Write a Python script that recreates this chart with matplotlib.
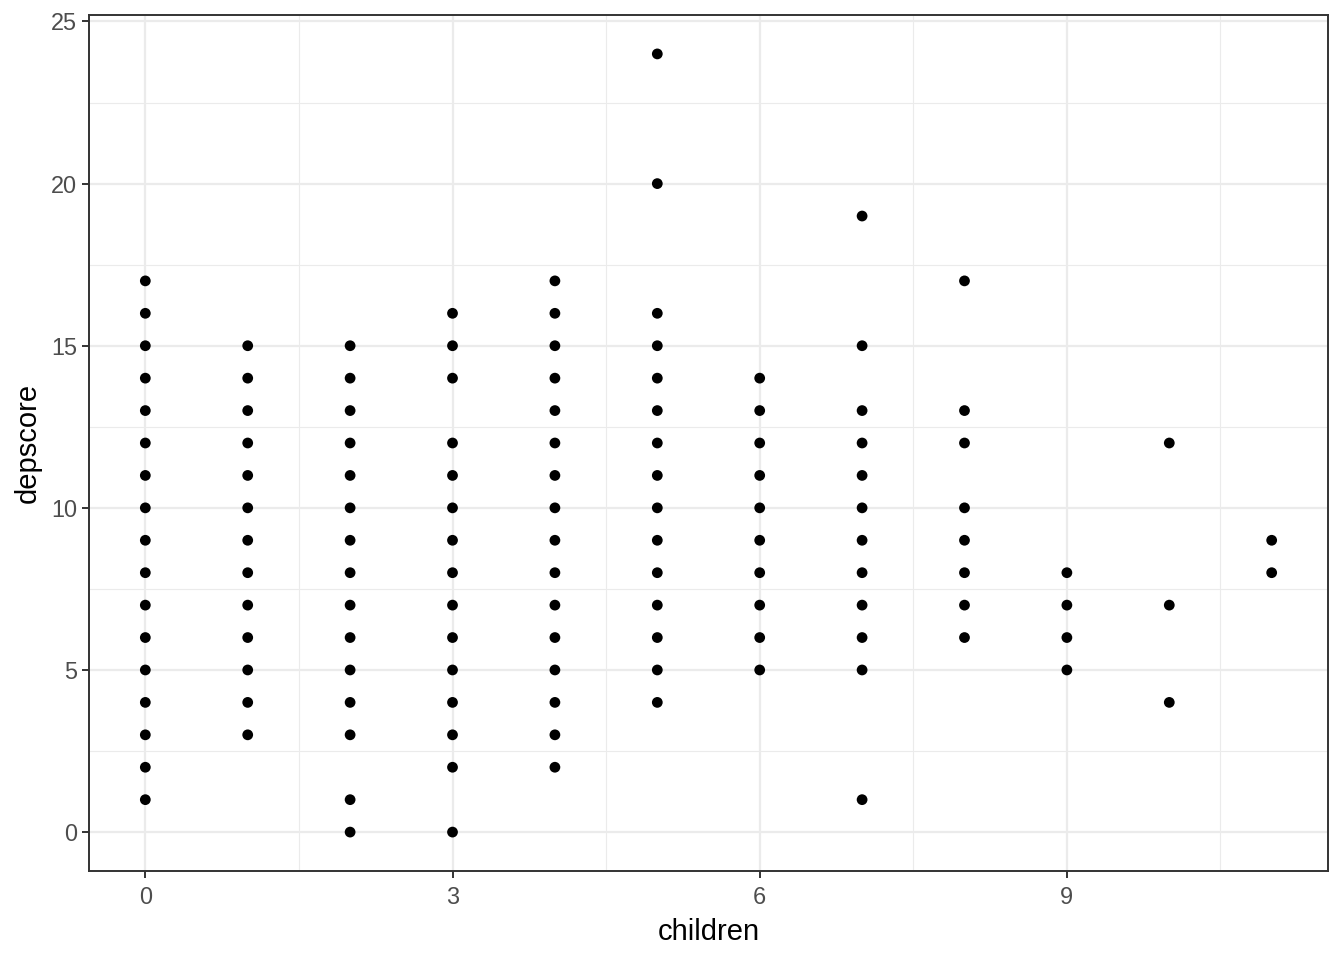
import matplotlib
matplotlib.use("Agg")
import matplotlib.pyplot as plt

plt.rcParams['font.family'] = ['Liberation Sans', 'DejaVu Sans']

children_vals = [0, 1, 2, 3, 4, 5, 6, 7, 8, 9, 10, 11]
depscores = {
    0: [1, 2, 3, 4, 5, 6, 7, 8, 9, 10, 11, 12, 13, 14, 15, 16, 17],
    1: [3, 4, 5, 6, 7, 8, 9, 10, 11, 12, 13, 14, 15],
    2: [0, 1, 3, 4, 5, 6, 7, 8, 9, 10, 11, 12, 13, 14, 15],
    3: [0, 2, 3, 4, 5, 6, 7, 8, 9, 10, 11, 12, 14, 15, 16],
    4: [2, 3, 4, 5, 6, 7, 8, 9, 10, 11, 12, 13, 14, 15, 16, 17],
    5: [4, 5, 6, 7, 8, 9, 10, 11, 12, 13, 14, 15, 16, 20, 24],
    6: [5, 6, 7, 8, 9, 10, 11, 12, 13, 14],
    7: [1, 5, 6, 7, 8, 9, 10, 11, 12, 13, 15, 19],
    8: [6, 7, 8, 9, 10, 12, 13, 17],
    9: [5, 6, 7, 8],
    10: [4, 7, 12],
    11: [8, 9],
}
x_ticks = [0, 3, 6, 9]
y_ticks = [0, 5, 10, 15, 20, 25]

xs, ys = [], []
for c in children_vals:
    for d in depscores[c]:
        xs.append(c)
        ys.append(d)

fig = plt.figure(figsize=(13.44, 9.6), dpi=100)
ax = fig.add_axes([89/1344, 1-871/960, (1328-89)/1344, (871-15)/960])

grid_col = '#EBEBEB'
for v in [1.5, 4.5, 7.5, 10.5]:
    ax.axvline(v, color=grid_col, lw=0.8, zorder=0)
for v in [2.5, 7.5, 12.5, 17.5, 22.5]:
    ax.axhline(v, color=grid_col, lw=0.8, zorder=0)
for v in x_ticks:
    ax.axvline(v, color=grid_col, lw=1.6, zorder=0)
for v in y_ticks:
    ax.axhline(v, color=grid_col, lw=1.6, zorder=0)

ax.scatter(xs, ys, s=60, color='black', edgecolors='none', zorder=3)

ax.set_xlim(-0.55, 11.55)
ax.set_ylim(-1.2, 25.2)
ax.set_xticks(x_ticks)
ax.set_yticks(y_ticks)
ax.tick_params(axis='both', length=5, width=1.4, color='#333333',
               labelsize=16.9, labelcolor='#4D4D4D', pad=3.5)
ax.tick_params(axis='x', pad=6)
for s in ax.spines.values():
    s.set_color('#333333')
    s.set_linewidth(1.4)

ax.set_xlabel('children', fontsize=21, color='black', labelpad=6)
ax.set_ylabel('depscore', fontsize=21, color='black', labelpad=7)

fig.savefig('out.png', dpi=100)
